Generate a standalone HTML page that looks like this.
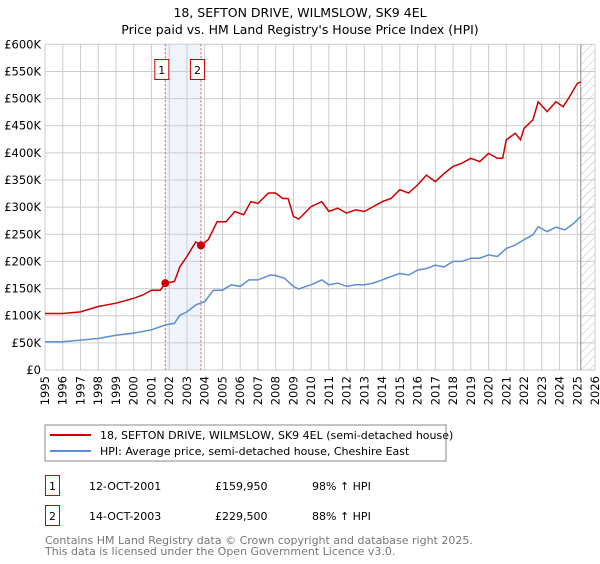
<!DOCTYPE html>
<html><head><meta charset="utf-8"><style>
body{margin:0;background:#fff;font-family:"DejaVu Sans","Liberation Sans",sans-serif;}
svg text{font-family:"DejaVu Sans","Liberation Sans",sans-serif;}
</style></head><body>
<svg id="c" width="600" height="560" xmlns="http://www.w3.org/2000/svg">
<defs><pattern id="hatch" width="6" height="6" patternUnits="userSpaceOnUse" patternTransform="rotate(45)"><line x1="0" y1="0" x2="0" y2="6" stroke="#bbb" stroke-width="1"/></pattern></defs>
<text x="300" y="17" text-anchor="middle" font-size="12.5" fill="#000">18, SEFTON DRIVE, WILMSLOW, SK9 4EL</text>
<text x="300" y="34" text-anchor="middle" font-size="12.5" fill="#000">Price paid vs. HM Land Registry's House Price Index (HPI)</text>
<g id="grid"></g><g id="marks"></g><g id="axes"></g>
<rect x="45" y="425" width="401" height="36" fill="#fff" stroke="#888"/>
<line x1="50" y1="435" x2="91" y2="435" stroke="#cc0000" stroke-width="2"/>
<text x="100" y="439" font-size="11">18, SEFTON DRIVE, WILMSLOW, SK9 4EL (semi-detached house)</text>
<line x1="50" y1="451" x2="91" y2="451" stroke="#5b8fd4" stroke-width="2"/>
<text x="100" y="455" font-size="11">HPI: Average price, semi-detached house, Cheshire East</text>
<g>
<rect x="45.5" y="475.5" width="14" height="20" fill="#fff" stroke="#cc0000"/>
<text x="52.5" y="490" text-anchor="middle" font-size="11">1</text>
<text x="89" y="490" font-size="11">12-OCT-2001</text>
<text x="215" y="490" font-size="11">£159,950</text>
<text x="312" y="490" font-size="11">98% ↑ HPI</text></g>
<g>
<rect x="45.5" y="505.5" width="14" height="20" fill="#fff" stroke="#cc0000"/>
<text x="52.5" y="520" text-anchor="middle" font-size="11">2</text>
<text x="89" y="520" font-size="11">14-OCT-2003</text>
<text x="215" y="520" font-size="11">£229,500</text>
<text x="312" y="520" font-size="11">88% ↑ HPI</text></g>
<text x="45" y="544" font-size="11" fill="#777">Contains HM Land Registry data © Crown copyright and database right 2025.</text>
<text x="45" y="555" font-size="11" fill="#777">This data is licensed under the Open Government Licence v3.0.</text>
</svg>
<script>
const yTicks=[0,50,100,150,200,250,300,350,400,450,500,550,600];
const yTickLabels=["£0","£50K","£100K","£150K","£200K","£250K","£300K","£350K","£400K","£450K","£500K","£550K","£600K"];
const xYears=[1995,1996,1997,1998,1999,2000,2001,2002,2003,2004,2005,2006,2007,2008,2009,2010,2011,2012,2013,2014,2015,2016,2017,2018,2019,2020,2021,2022,2023,2024,2025,2026];
const hpiT=[1995,1996,1997,1998,1999,2000,2001,2001.8,2002.3,2002.6,2003,2003.5,2004,2004.5,2005,2005.5,2006,2006.5,2007,2007.7,2008,2008.5,2009,2009.3,2009.7,2010,2010.6,2011,2011.5,2012,2012.5,2013,2013.5,2014,2014.5,2015,2015.5,2016,2016.5,2017,2017.5,2018,2018.5,2019,2019.5,2020,2020.5,2021,2021.5,2022,2022.5,2022.8,2023.3,2023.8,2024.3,2024.8,2025.2];
const hpiV=[52,52,55,58,64,68,74,83,86,101,107,120,126,147,147,157,154,166,166,175,174,169,154,149,154,157,166,157,160,154,157,157,160,166,172,178,175,184,187,193,190,200,200,206,206,212,209,224,230,240,249,264,255,263,258,270,283];
const priceT=[1995,1996,1997,1998,1999,2000,2000.5,2001,2001.5,2001.8,2002.3,2002.6,2003,2003.5,2003.8,2004.2,2004.7,2005.2,2005.7,2006.2,2006.6,2007,2007.6,2008,2008.4,2008.7,2009,2009.3,2010,2010.6,2011,2011.5,2012,2012.5,2013,2013.5,2014,2014.5,2015,2015.5,2016,2016.5,2017,2017.5,2018,2018.5,2019,2019.5,2020,2020.5,2020.8,2021,2021.5,2021.8,2022,2022.5,2022.8,2023.3,2023.8,2024.2,2024.5,2025,2025.2];
const priceV=[104,104,107,117,123,132,138,147,147,160,163,190,209,236,230,240,273,273,292,286,310,307,326,326,316,316,283,278,301,310,292,298,289,295,292,301,310,316,332,326,341,359,347,362,375,381,390,384,399,390,390,424,436,424,445,461,494,476,494,485,500,528,531];
const saleT=[2001.78,2003.79];
const saleV=[159.95,229.5];
const saleLabels=["1","2"];
const bandStart=2001.78,bandEnd=2003.79,dataEnd=2025.2;
const X0=45,X1=595,Y0=370,Y1=44.3;
const xs=t=>X0+(t-1995)/(2026-1995)*(X1-X0);
const ys=v=>Y0-v/600*(Y0-Y1);
const NS="http://www.w3.org/2000/svg";
function mk(p,tag,at){const e=document.createElementNS(NS,tag);for(const k in at)e.setAttribute(k,at[k]);p.appendChild(e);return e;}
const grid=document.getElementById('grid'),marks=document.getElementById('marks'),axes=document.getElementById('axes');
const band=mk(grid,'rect',{x:xs(bandStart),y:Y1,width:xs(bandEnd)-xs(bandStart),height:Y0-Y1,fill:'#eef3fc'});


xYears.forEach(y=>{const l=mk(grid,'line',{x1:xs(y),x2:xs(y),y1:Y1,y2:Y0,stroke:'#ccc','stroke-width':1});


const t=mk(axes,'text',{transform:`translate(${xs(y)+4},${Y0+6}) rotate(-90)`,'text-anchor':'end','font-size':11.5});t.textContent=y;

});
yTicks.forEach((v,i)=>{const l=mk(grid,'line',{x1:X0,x2:X1,y1:ys(v),y2:ys(v),stroke:'#ccc','stroke-width':1});


const t=mk(axes,'text',{x:X0-4,y:ys(v)+4,'text-anchor':'end','font-size':11.5});t.textContent=yTickLabels[i];

});
const h=mk(grid,'rect',{x:xs(dataEnd),y:Y1,width:X1-xs(dataEnd),height:Y0-Y1,fill:'url(#hatch)'});


const dl=mk(grid,'line',{x1:xs(dataEnd),x2:xs(dataEnd),y1:Y1,y2:Y0,stroke:'#888','stroke-width':1});


saleT.forEach((t,i)=>{const l=mk(grid,'line',{x1:xs(t),x2:xs(t),y1:Y1,y2:Y0,stroke:'#e05555','stroke-dasharray':'2,2','stroke-width':1});


const g=mk(axes,'g',{});


mk(g,'rect',{x:xs(t)-10.5,y:59.5,width:14,height:20,fill:'#fff',stroke:'#cc0000'});
const tx=mk(g,'text',{x:xs(t)-3.5,y:74,'text-anchor':'middle','font-size':11});tx.textContent=saleLabels[i];});
function path(T,V){return T.map((t,i)=>(i?'L':'M')+xs(t).toFixed(1)+','+ys(V[i]).toFixed(1)).join('');}
const hp=mk(marks,'path',{d:path(hpiT,hpiV),fill:'none',stroke:'#5b8fd4','stroke-width':1.5});


const pp=mk(marks,'path',{d:path(priceT,priceV),fill:'none',stroke:'#cc0000','stroke-width':1.5});


saleT.forEach((t,i)=>{const c=mk(marks,'circle',{cx:xs(t),cy:ys(saleV[i]),r:4,fill:'#cc0000'});

});
</script>
</body></html>
